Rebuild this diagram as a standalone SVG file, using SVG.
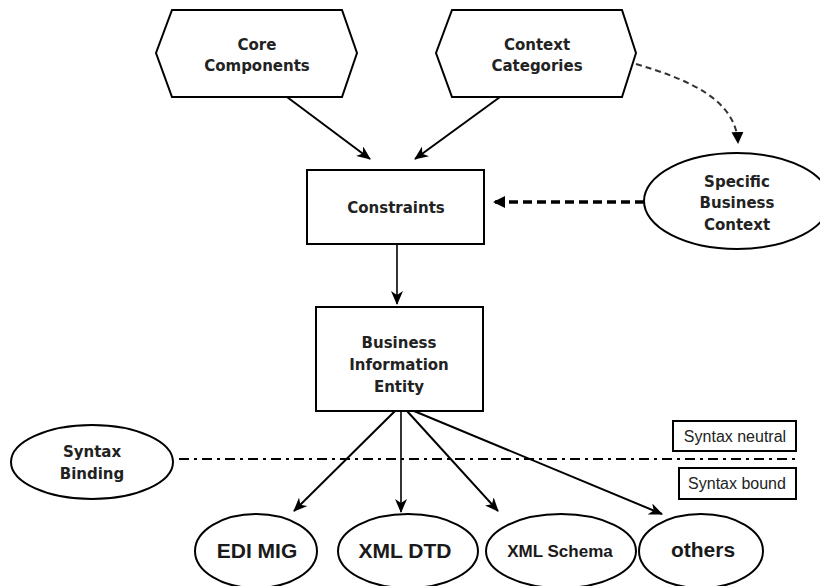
<svg xmlns="http://www.w3.org/2000/svg" width="820" height="586" viewBox="0 0 820 586">
<style>
.sh{fill:#fff;stroke:#000;stroke-width:2}
.t{font-family:"DejaVu Sans",sans-serif;font-weight:bold;font-size:15px;fill:#222;text-anchor:middle}
.b{font-family:"Liberation Sans",Arial,sans-serif;font-weight:bold;font-size:21px;fill:#1a1a1a;text-anchor:middle}
.s{font-family:"Liberation Sans",Arial,sans-serif;font-size:16px;fill:#222;text-anchor:middle}
.ln{fill:none;stroke:#000;stroke-width:2}
</style>
<defs>
<marker id="ah" markerUnits="userSpaceOnUse" markerWidth="14" markerHeight="12" viewBox="0 0 14 12" refX="13" refY="6" orient="auto"><path d="M0,0 L14,6 L0,12 L4,6 z" fill="#000"/></marker>
<marker id="ahd" markerUnits="userSpaceOnUse" markerWidth="12" markerHeight="12" viewBox="0 0 12 12" refX="11" refY="6" orient="auto"><path d="M0,0 L12,6 L0,12 z" fill="#000"/></marker>
</defs>
<rect width="820" height="586" fill="#fff"/>
<g id="connectors">
<line class="ln" x1="287" y1="97" x2="370" y2="159" marker-end="url(#ah)"/>
<line class="ln" x1="500" y1="97" x2="415" y2="159" marker-end="url(#ah)"/>
<path d="M636,64 C690,80 736,100 738,143" fill="none" stroke="#333" stroke-width="2" stroke-dasharray="6 4" marker-end="url(#ahd)"/>
<line x1="644" y1="202" x2="494" y2="202" stroke="#000" stroke-width="3.5" stroke-dasharray="9 5" marker-end="url(#ahd)"/>
<line x1="397" y1="244" x2="397" y2="304" stroke="#000" stroke-width="1.6" marker-end="url(#ah)"/>
<line x1="179" y1="459" x2="797" y2="459" stroke="#000" stroke-width="2" stroke-dasharray="10 5 3 5"/>
<line class="ln" x1="395" y1="411" x2="294" y2="511" marker-end="url(#ah)"/>
<line x1="401" y1="411" x2="401" y2="512" stroke="#000" stroke-width="1.6" marker-end="url(#ah)"/>
<line class="ln" x1="407" y1="411" x2="498" y2="511" marker-end="url(#ah)"/>
<line class="ln" x1="414" y1="411" x2="662" y2="514" marker-end="url(#ah)"/>
</g>
<g id="core-components">
<polygon class="sh" points="172,10 342,10 357,53 342,97 172,97 156,53"/>
<text class="t" x="257" y="50">Core</text>
<text class="t" x="257" y="71">Components</text>
</g>
<g id="context-categories">
<polygon class="sh" points="452,10 622,10 636,53 622,97 452,97 436,53"/>
<text class="t" x="537" y="50">Context</text>
<text class="t" x="537" y="71">Categories</text>
</g>
<g id="constraints">
<rect class="sh" x="307" y="170" width="177" height="74"/>
<text class="t" x="396" y="213">Constraints</text>
</g>
<g id="specific-business-context">
<ellipse class="sh" cx="737" cy="201" rx="93" ry="48"/>
<text class="t" x="737" y="187">Specific</text>
<text class="t" x="737" y="208">Business</text>
<text class="t" x="737" y="230">Context</text>
</g>
<g id="business-information-entity">
<rect class="sh" x="316" y="307" width="167" height="104"/>
<text class="t" x="399" y="348">Business</text>
<text class="t" x="399" y="370">Information</text>
<text class="t" x="399" y="392">Entity</text>
</g>
<g id="syntax-binding">
<ellipse class="sh" cx="92" cy="462" rx="81" ry="37"/>
<text class="t" x="92" y="457">Syntax</text>
<text class="t" x="92" y="479">Binding</text>
</g>
<g id="syntax-neutral">
<rect class="sh" x="673" y="421" width="123" height="30"/>
<text class="s" x="735" y="442">Syntax neutral</text>
</g>
<g id="syntax-bound">
<rect class="sh" x="679" y="468" width="117" height="31"/>
<text class="s" x="737" y="489">Syntax bound</text>
</g>
<g id="edi-mig">
<ellipse class="sh" cx="256" cy="551" rx="61" ry="37"/>
<text class="b" x="257" y="558">EDI MIG</text>
</g>
<g id="xml-dtd">
<ellipse class="sh" cx="408" cy="551" rx="70" ry="37"/>
<text class="b" x="405" y="558">XML DTD</text>
</g>
<g id="xml-schema">
<ellipse class="sh" cx="561" cy="551" rx="75" ry="37"/>
<text class="b" x="560" y="557" style="font-size:17px">XML Schema</text>
</g>
<g id="others">
<ellipse class="sh" cx="701" cy="551" rx="62" ry="37"/>
<text class="b" x="703" y="557">others</text>
</g>
</svg>
